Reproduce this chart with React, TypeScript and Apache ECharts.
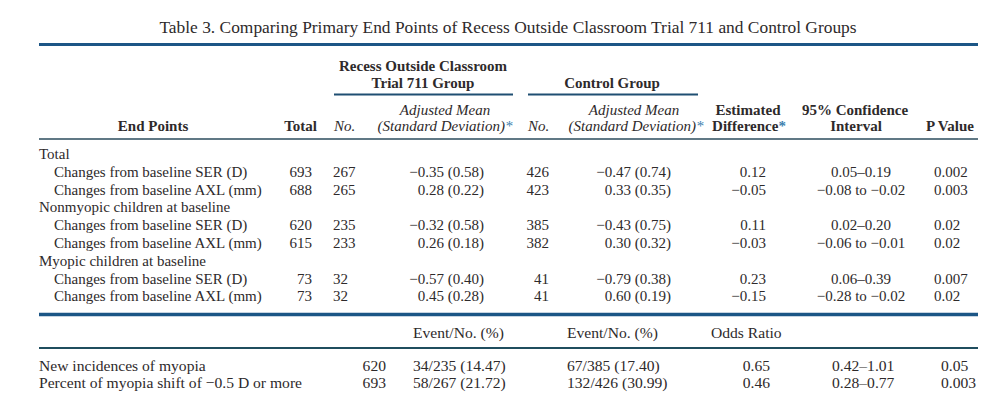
import React, { useEffect, useRef } from "react";
import * as echarts from "echarts";

const titleText =
  "Table 3. Comparing Primary End Points of Recess Outside Classroom Trial 711 and Control Groups";
const groupHeaders = ["Recess Outside Classroom", "Trial 711 Group", "Control Group"];
const sectionLabels = ["Total", "Nonmyopic children at baseline", "Myopic children at baseline"];
const measureLabels = ["Changes from baseline SER (D)", "Changes from baseline AXL (mm)"];
const totals = [693, 688, 620, 615, 73, 73];
const recessNo = [267, 265, 235, 233, 32, 32];
const recessMean = ["−0.35 (0.58)", "0.28 (0.22)", "−0.32 (0.58)", "0.26 (0.18)", "−0.57 (0.40)", "0.45 (0.28)"];
const controlNo = [426, 423, 385, 382, 41, 41];
const controlMean = ["−0.47 (0.74)", "0.33 (0.35)", "−0.43 (0.75)", "0.30 (0.32)", "−0.79 (0.38)", "0.60 (0.19)"];
const estDiff = ["0.12", "−0.05", "0.11", "−0.03", "0.23", "−0.15"];
const confInt = ["0.05–0.19", "−0.08 to −0.02", "0.02–0.20", "−0.06 to −0.01", "0.06–0.39", "−0.28 to −0.02"];
const pValues = ["0.002", "0.003", "0.02", "0.02", "0.007", "0.02"];

const eventHeaders = ["Event/No. (%)", "Event/No. (%)", "Odds Ratio"];
const eventLabels = ["New incidences of myopia", "Percent of myopia shift of −0.5 D or more"];
const eventTotals = [620, 693];
const recessEvents = ["34/235 (14.47)", "58/267 (21.72)"];
const controlEvents = ["67/385 (17.40)", "132/426 (30.99)"];
const oddsRatios = ["0.65", "0.46"];
const oddsCI = ["0.42–1.01", "0.28–0.77"];
const eventP = ["0.05", "0.003"];

const FF = '"Liberation Serif", "Times New Roman", serif';
const INK = "#2e2a2b";
const STAR = "#3d7fae";

function txt(text: string, x: number, y: number, align: string, opts: any = {}) {
  const size = opts.size || 15;
  const weight = opts.bold ? "bold " : "";
  const style = opts.italic ? "italic " : "";
  return {
    type: "text",
    x,
    y,
    silent: true,
    style: {
      text,
      font: `${style}${weight}${size}px ${FF}`,
      fill: INK,
      align,
      verticalAlign: "middle",
      rich: { s: { fill: STAR, font: `${style}${weight}${size}px ${FF}` } },
    },
  };
}

function hline(x1: number, x2: number, y: number, w: number, color: string) {
  return {
    type: "line",
    silent: true,
    shape: { x1, y1: y, x2, y2: y },
    style: { stroke: color, lineWidth: w },
  };
}

export default function App() {
  const ref = useRef<HTMLDivElement>(null);
  useEffect(() => {
    document.body.style.margin = "0";
    const chart = echarts.init(ref.current!, null, { renderer: "svg" });
    const g: any[] = [];
    // title
    g.push(txt(titleText, 508, 27, "center", { size: 17.4 }));
    g.push(hline(39, 978, 44.5, 3, "#1c5686"));

    // group headers
    g.push(txt(groupHeaders[0], 423, 66, "center", { bold: true }));
    g.push(txt(groupHeaders[1], 423, 83, "center", { bold: true }));
    g.push(txt(groupHeaders[2], 612, 83, "center", { bold: true }));
    g.push(hline(334, 513, 94.5, 2, "#1f4f72"));
    g.push(hline(528, 698, 94.5, 2, "#1f4f72"));

    // column headers
    g.push(txt("Adjusted Mean", 445, 110, "center", { italic: true }));
    g.push(txt("(Standard Deviation){s|*}", 445, 126, "center", { italic: true }));
    g.push(txt("Adjusted Mean", 634, 110, "center", { italic: true }));
    g.push(txt("(Standard Deviation){s|*}", 636, 126, "center", { italic: true }));
    g.push(txt("End Points", 153, 126, "center", { bold: true }));
    g.push(txt("Total", 317, 126, "right", { bold: true }));
    g.push(txt("No.", 334, 126, "left", { italic: true }));
    g.push(txt("No.", 528, 126, "left", { italic: true }));
    g.push(txt("Estimated", 748, 110, "center", { bold: true }));
    g.push(txt("Difference{s|*}", 749, 126, "center", { bold: true }));
    g.push(txt("95% Confidence", 855, 110, "center", { bold: true }));
    g.push(txt("Interval", 856, 126, "center", { bold: true }));
    g.push(txt("P Value", 950, 126, "center", { bold: true }));
    g.push(hline(39, 978, 139, 1.5, "#2b4b5d"));

    // body rows
    const y0 = 154;
    const dy = 17.8;
    let r = 0;
    for (let s = 0; s < sectionLabels.length; s++) {
      g.push(txt(sectionLabels[s], 39, y0 + r * dy, "left"));
      r++;
      for (let m = 0; m < measureLabels.length; m++) {
        const i = s * 2 + m;
        const y = y0 + r * dy;
        g.push(txt(measureLabels[m], 54, y, "left"));
        g.push(txt(String(totals[i]), 312, y, "right"));
        g.push(txt(String(recessNo[i]), 333, y, "left"));
        g.push(txt(recessMean[i], 484, y, "right"));
        g.push(txt(String(controlNo[i]), 549, y, "right"));
        g.push(txt(controlMean[i], 671, y, "right"));
        g.push(txt(estDiff[i], 766, y, "right"));
        g.push(txt(confInt[i], 861, y, "center"));
        g.push(txt(pValues[i], 934, y, "left"));
        r++;
      }
    }

    // events section
    const es = 15.6;
    g.push(hline(39, 978, 314.5, 3.5, "#1c5686"));
    g.push(txt(eventHeaders[0], 413, 332, "left", { size: es }));
    g.push(txt(eventHeaders[1], 567, 332, "left", { size: es }));
    g.push(txt(eventHeaders[2], 711, 332, "left", { size: es }));
    g.push(hline(39, 978, 348, 2, "#1f4d5e"));
    for (let i = 0; i < eventLabels.length; i++) {
      const y = 365 + i * 17;
      g.push(txt(eventLabels[i], 39, y, "left", { size: es }));
      g.push(txt(String(eventTotals[i]), 386, y, "right", { size: es }));
      g.push(txt(recessEvents[i], 413, y, "left", { size: es }));
      g.push(txt(controlEvents[i], 567, y, "left", { size: es }));
      g.push(txt(oddsRatios[i], 770, y, "right", { size: es }));
      g.push(txt(oddsCI[i], 832, y, "left", { size: es }));
      g.push(txt(eventP[i], 941, y, "left", { size: es }));
    }

    chart.setOption({ animation: false, backgroundColor: "#ffffff", graphic: g });
    return () => chart.dispose();
  }, []);
  return (
    <div
      ref={ref}
      style={{ position: "fixed", left: 0, top: 0, width: 1008, height: 412, background: "#fff" }}
    />
  );
}
